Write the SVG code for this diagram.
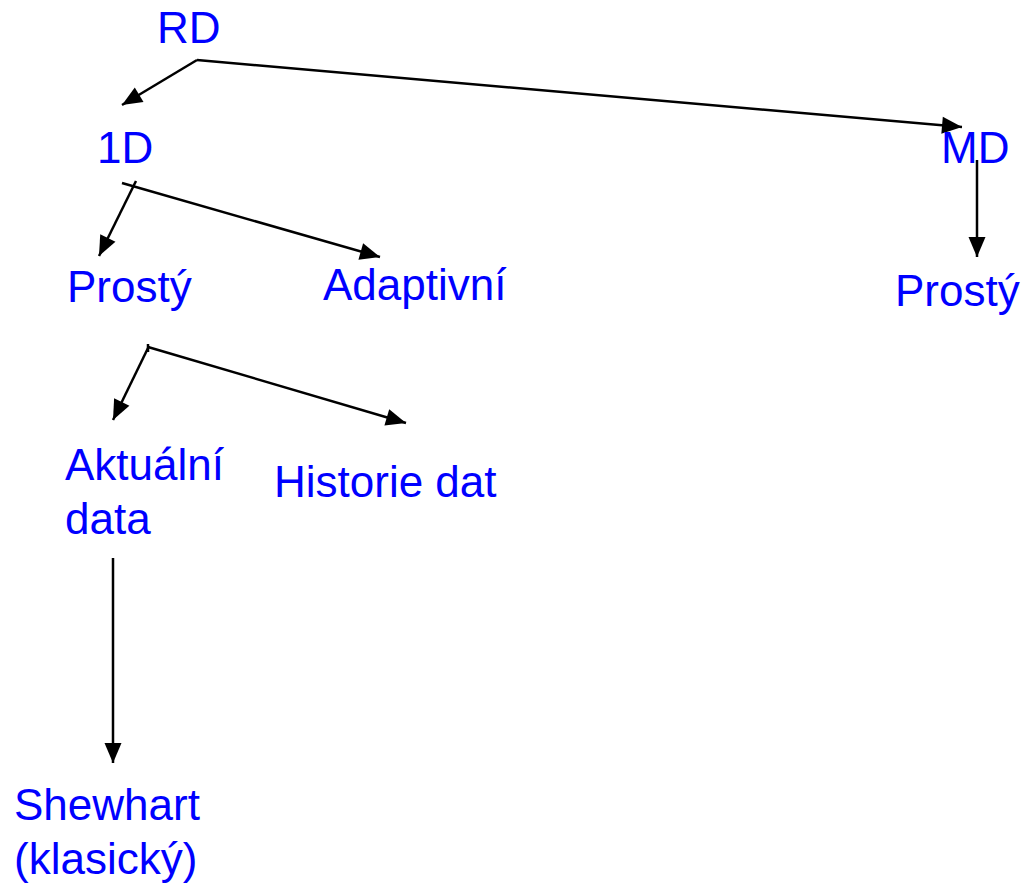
<svg xmlns="http://www.w3.org/2000/svg" width="1023" height="887" viewBox="0 0 1023 887">
<style>
text{font-family:"Liberation Sans",Arial,sans-serif;font-size:44px;fill:#0000FF}
.c line{stroke:#000;stroke-width:2.5;fill:none}
.a{marker-end:url(#ah)}
</style>
<defs>
<marker id="ah" markerUnits="userSpaceOnUse" markerWidth="22" markerHeight="18" refX="20" refY="8.5" orient="auto" overflow="visible">
<path d="M0,0 L20,8.5 L0,17 z" fill="#000"/>
</marker>
</defs>
<rect width="1023" height="887" fill="#fff"/>
<g id="connectors" class="c">
<line class="a" x1="197" y1="60" x2="122" y2="105"/>
<line class="a" x1="197" y1="60" x2="962" y2="127"/>
<line class="a" x1="977" y1="160" x2="977" y2="257"/>
<line class="a" x1="122" y1="183" x2="380" y2="257"/>
<line class="a" x1="136" y1="181" x2="99" y2="256"/>
<line class="a" x1="148" y1="347" x2="406" y2="423"/>
<line class="a" x1="149" y1="346" x2="113" y2="420"/>
<line x1="148" y1="344" x2="148" y2="352"/>
<line class="a" x1="113" y1="558" x2="113" y2="763"/>
</g>
<g id="n-rd"><text x="157" y="43">RD</text></g>
<g id="n-1d"><text x="97" y="163">1D</text></g>
<g id="n-md"><text x="941" y="163">MD</text></g>
<g id="n-prosty1"><text x="67" y="302">Prostý</text></g>
<g id="n-adaptivni"><text x="323" y="300">Adaptivní</text></g>
<g id="n-prosty2"><text x="895" y="306">Prostý</text></g>
<g id="n-aktualni"><text x="65" y="480">Aktuální</text><text x="65" y="534">data</text></g>
<g id="n-historie"><text x="274" y="497">Historie dat</text></g>
<g id="n-shewhart"><text x="14" y="820">Shewhart</text><text x="14" y="874">(klasický)</text></g>
</svg>
